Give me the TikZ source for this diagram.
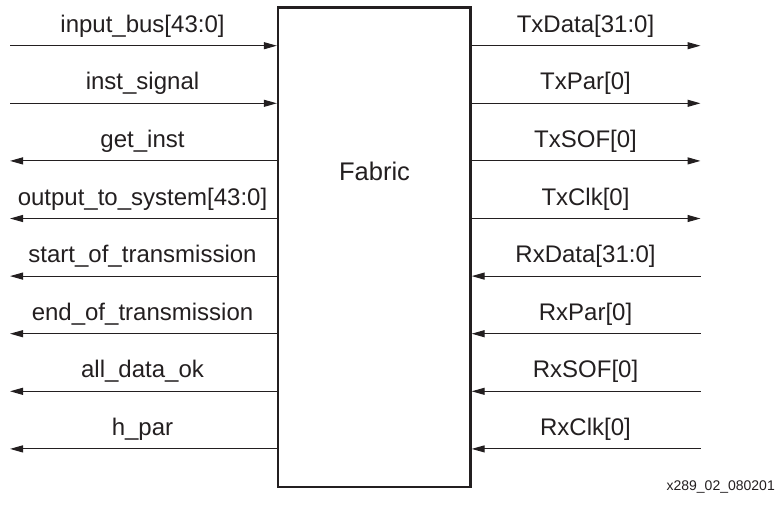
\documentclass[tikz,border=0pt]{standalone}
\usepackage{fontspec}
\setmainfont{Liberation Sans}
\usetikzlibrary{arrows.meta}
\definecolor{ink}{HTML}{231F20}
\tikzset{
  sig/.style={line width=1.1pt, draw=ink},
  tip/.style={-{Triangle[length=13pt,width=7pt]}},
  lbl/.style={anchor=base, inner sep=0pt, text=ink, font=\fontsize{24}{27}\selectfont},
  fabbox/.style={draw=ink, line width=2.3pt, minimum width=192.5pt, minimum height=479.5pt, inner sep=0pt}
}
\begin{document}
\begin{tikzpicture}[x=1pt,y=-1pt]
\useasboundingbox (0,0) rectangle (783,504);
\node[fabbox] (fab) at (374.25,247.25) {};
\node[lbl, font=\fontsize{25.5}{28}\selectfont] (fabtxt) at (374.5,180) {Fabric};
% left side
\foreach \k/\t/\d in {0/input\_bus[43:0]/in, 1/inst\_signal/in, 2/get\_inst/out, 3/output\_to\_system[43:0]/out, 4/start\_of\_transmission/out, 5/end\_of\_transmission/out, 6/all\_data\_ok/out, 7/h\_par/out}{
  \pgfmathsetmacro{\yy}{45.7+57.6*\k}
  \coordinate (L\k) at (10,\yy);
  \coordinate (LB\k) at (L\k -| fab.west);
  \node[lbl] (Lt\k) at (142.5,\yy-13.5) {\t};
  \ifnum\pdfstrcmp{\d}{in}=0
    \draw[sig,tip] (L\k) -- (LB\k);
  \else
    \draw[sig,tip] (LB\k) -- (L\k);
  \fi
}
% right side
\foreach \k/\t/\d in {0/TxData[31:0]/out, 1/TxPar[0]/out, 2/TxSOF[0]/out, 3/TxClk[0]/out, 4/RxData[31:0]/in, 5/RxPar[0]/in, 6/RxSOF[0]/in, 7/RxClk[0]/in}{
  \pgfmathsetmacro{\yy}{45.7+57.6*\k}
  \coordinate (R\k) at (700.5,\yy);
  \coordinate (RB\k) at (R\k -| fab.east);
  \node[lbl] (Rt\k) at (585.5,\yy-13.5) {\t};
  \ifnum\pdfstrcmp{\d}{in}=0
    \draw[sig,tip] (R\k) -- (RB\k);
  \else
    \draw[sig,tip] (RB\k) -- (R\k);
  \fi
}
\node[lbl, anchor=base east, font=\fontsize{14}{16}\selectfont] (fig) at (775,490) {x289\_02\_080201};
\end{tikzpicture}
\end{document}
